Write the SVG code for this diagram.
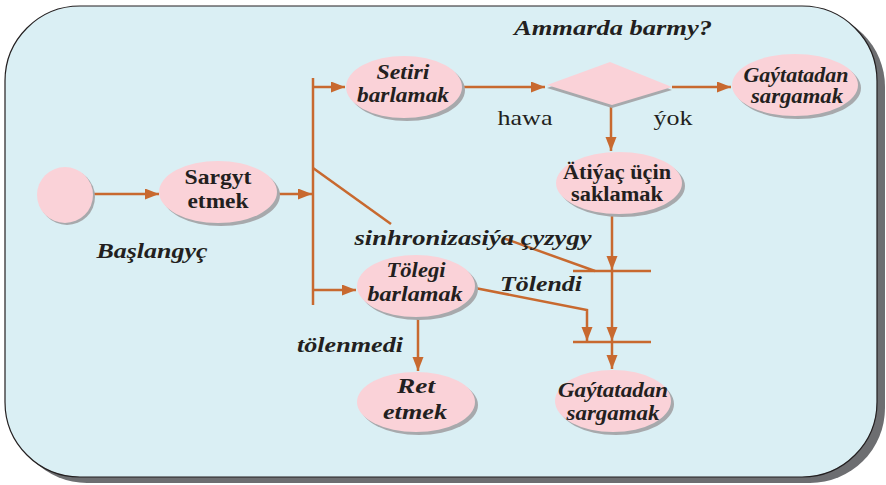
<svg xmlns="http://www.w3.org/2000/svg" width="886" height="485" viewBox="0 0 886 485">
<defs>
<marker id="ah" markerUnits="userSpaceOnUse" markerWidth="15" markerHeight="12" refX="14" refY="5.5" orient="auto">
<path d="M0,0 L14,5.5 L0,11 z" fill="#c8692f"/>
</marker>
</defs>
<style>
.ln{stroke:#c8692f;stroke-width:2.5;fill:none}
.nd{fill:#fad2d8}
.sh{fill:#a7a9ac}
.t{font-family:"Liberation Serif","Times New Roman",serif;font-weight:bold;font-size:22px;fill:#231f20;text-anchor:middle}
.s{font-size:20px}
.i{font-style:italic}
.r{font-weight:normal}
</style>
<rect x="12" y="12" width="873" height="471" rx="75" fill="#6d6e71"/>
<rect x="5" y="6" width="872" height="471" rx="75" fill="#daeff4" stroke="#231f20" stroke-width="1.2"/>

<g id="connectors">
<line class="ln" x1="93" y1="194" x2="159" y2="194" marker-end="url(#ah)"/>
<line class="ln" x1="277" y1="194" x2="312" y2="194" marker-end="url(#ah)"/>
<line class="ln" x1="313" y1="78" x2="313" y2="305"/>
<line class="ln" x1="313" y1="87" x2="345" y2="87" marker-end="url(#ah)"/>
<line class="ln" x1="313" y1="290" x2="356" y2="290" marker-end="url(#ah)"/>
<line class="ln" x1="463" y1="87" x2="545" y2="87" marker-end="url(#ah)"/>
<line class="ln" x1="672" y1="87" x2="731" y2="87" marker-end="url(#ah)"/>
<line class="ln" x1="611" y1="105" x2="611" y2="151" marker-end="url(#ah)"/>
<line class="ln" x1="612" y1="216" x2="612" y2="270" marker-end="url(#ah)"/>
<line class="ln" x1="573" y1="271" x2="651" y2="271"/>
<line class="ln" x1="612" y1="271" x2="612" y2="341" marker-end="url(#ah)"/>
<line class="ln" x1="573" y1="342" x2="651" y2="342"/>
<line class="ln" x1="612" y1="342" x2="612" y2="369" marker-end="url(#ah)"/>
<polyline class="ln" points="475,288 587,310 587,341" marker-end="url(#ah)"/>
<line class="ln" x1="418" y1="318" x2="418" y2="371" marker-end="url(#ah)"/>
<line class="ln" x1="313" y1="168" x2="391" y2="224"/>
<line class="ln" x1="503" y1="238" x2="595" y2="271"/>
</g>

<g id="start">
<circle class="sh" cx="67" cy="197" r="28"/>
<circle class="nd" cx="65" cy="195" r="28"/>
</g>
<g id="sargyt">
<ellipse class="sh" cx="221" cy="195" rx="59" ry="31"/>
<ellipse class="nd" cx="218" cy="192" rx="59" ry="31"/>
<text class="t" x="218" y="184" textLength="67" lengthAdjust="spacingAndGlyphs">Sargyt</text>
<text class="t" x="218" y="208" textLength="61" lengthAdjust="spacingAndGlyphs">etmek</text>
</g>
<g id="setiri">
<ellipse class="sh" cx="407" cy="90" rx="58" ry="31"/>
<ellipse class="nd" cx="404" cy="87" rx="58" ry="31"/>
<text class="t i" x="403" y="79" textLength="53" lengthAdjust="spacingAndGlyphs">Setiri</text>
<text class="t i" x="403" y="102" textLength="92" lengthAdjust="spacingAndGlyphs">barlamak</text>
</g>
<g id="decision">
<polygon class="sh" points="547,88 610,65 672,90 612,108"/>
<polygon class="nd" points="547,85 610,62 672,87 612,105"/>
</g>
<g id="gaytatadan1">
<ellipse class="sh" cx="798" cy="88" rx="63" ry="31"/>
<ellipse class="nd" cx="795" cy="85" rx="63" ry="31"/>
<text class="t i s" x="796" y="82" textLength="105" lengthAdjust="spacingAndGlyphs">Gaýtatadan</text>
<text class="t i s" x="797" y="103" textLength="92" lengthAdjust="spacingAndGlyphs">sargamak</text>
</g>
<g id="atiyac">
<ellipse class="sh" cx="622" cy="186" rx="63" ry="31"/>
<ellipse class="nd" cx="619" cy="183" rx="63" ry="31"/>
<text class="t s" x="617" y="179" textLength="108" lengthAdjust="spacingAndGlyphs">Ätiýaç üçin</text>
<text class="t s" x="617" y="201" textLength="92" lengthAdjust="spacingAndGlyphs">saklamak</text>
</g>
<g id="tolegi">
<ellipse class="sh" cx="419" cy="289" rx="59" ry="31"/>
<ellipse class="nd" cx="416" cy="286" rx="59" ry="31"/>
<text class="t i" x="416" y="277" textLength="59" lengthAdjust="spacingAndGlyphs">Tölegi</text>
<text class="t i" x="415" y="301" textLength="95" lengthAdjust="spacingAndGlyphs">barlamak</text>
</g>
<g id="ret">
<ellipse class="sh" cx="419" cy="405" rx="59" ry="30"/>
<ellipse class="nd" cx="416" cy="402" rx="59" ry="30"/>
<text class="t i" x="416" y="393" textLength="38" lengthAdjust="spacingAndGlyphs">Ret</text>
<text class="t i" x="415" y="419" textLength="64" lengthAdjust="spacingAndGlyphs">etmek</text>
</g>
<g id="gaytatadan2">
<ellipse class="sh" cx="616" cy="404" rx="58" ry="31"/>
<ellipse class="nd" cx="613" cy="401" rx="58" ry="31"/>
<text class="t i" x="613" y="397" textLength="110" lengthAdjust="spacingAndGlyphs">Gaýtatadan</text>
<text class="t i" x="613" y="420" textLength="93" lengthAdjust="spacingAndGlyphs">sargamak</text>
</g>

<g id="labels">
<text class="t i" x="613" y="35" font-size="24" textLength="198" lengthAdjust="spacingAndGlyphs">Ammarda barmy?</text>
<text class="t r" x="525" y="125" font-size="23" textLength="55" lengthAdjust="spacingAndGlyphs">hawa</text>
<text class="t r" x="673" y="125" font-size="23" textLength="39" lengthAdjust="spacingAndGlyphs">ýok</text>
<text class="t i" x="473" y="245" font-size="23" textLength="237" lengthAdjust="spacingAndGlyphs">sinhronizasiýa çyzygy</text>
<text class="t i" x="541" y="291" font-size="23" textLength="82" lengthAdjust="spacingAndGlyphs">Tölendi</text>
<text class="t i" x="350" y="352" font-size="23" textLength="106" lengthAdjust="spacingAndGlyphs">tölenmedi</text>
<text class="t i" x="152" y="258" font-size="23" textLength="111" lengthAdjust="spacingAndGlyphs">Başlangyç</text>
</g>
</svg>
